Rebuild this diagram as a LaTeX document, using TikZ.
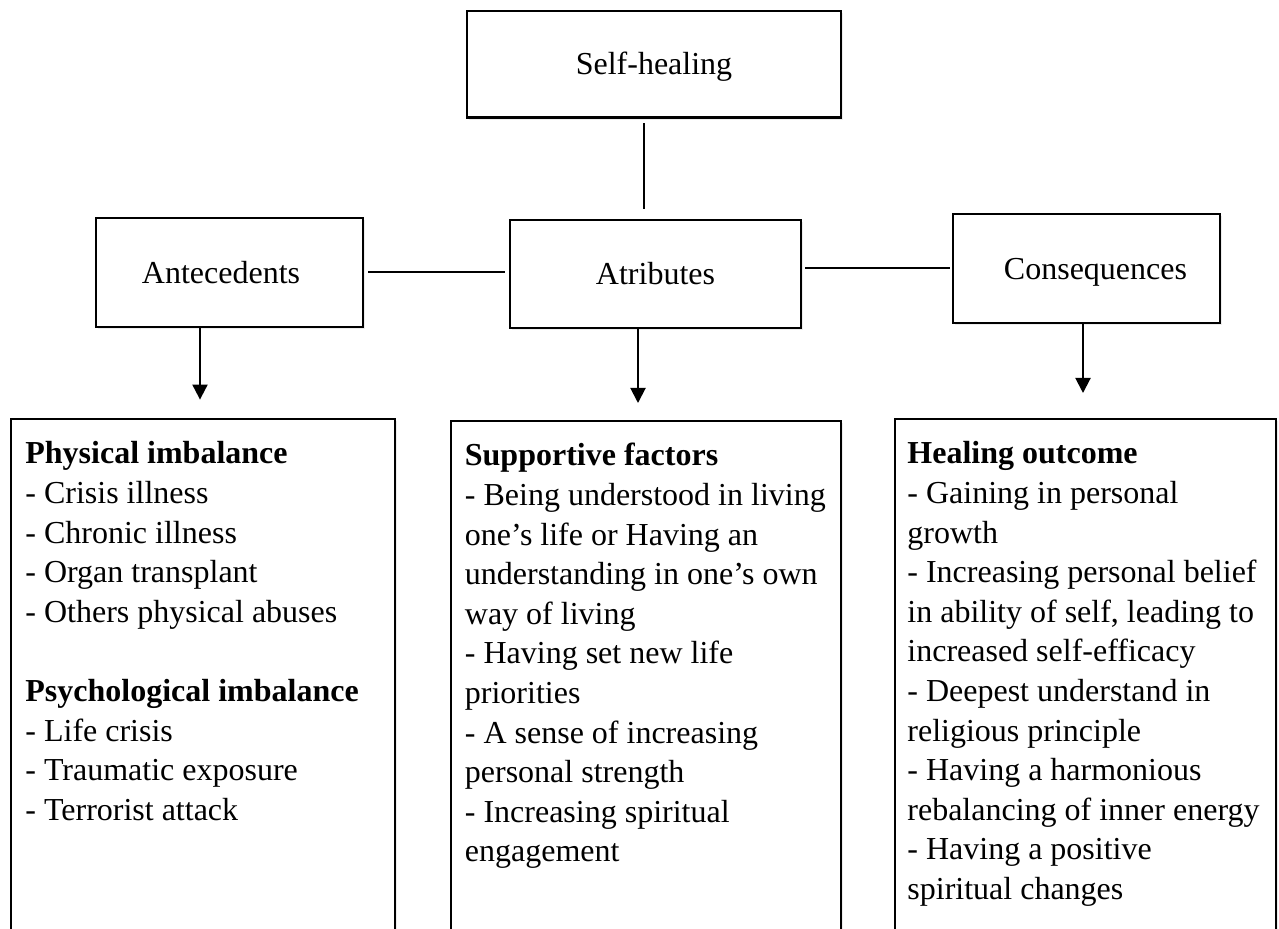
\documentclass[tikz,border=0pt]{standalone}
\usepackage{fontspec}
\setmainfont{Liberation Serif}
\usetikzlibrary{arrows.meta,shadows}
\begin{document}
\begin{tikzpicture}[x=0.5pt,y=-0.5pt,
  txt/.style={font=\fontsize{16pt}{19.8pt}\selectfont},
  box/.style={txt, draw=black, line width=1.1pt, fill=white, inner sep=0pt,
    text height=10.6pt, text depth=0pt,
    drop shadow={shadow xshift=0.8pt, shadow yshift=-1.2pt, opacity=0.15}},
  listbox/.style={draw=black, line width=1pt, fill=white, inner sep=0pt,
    drop shadow={shadow xshift=0.8pt, shadow yshift=-1.2pt, opacity=0.15}},
  listtext/.style={txt, anchor=base west, inner sep=0pt},
  conn/.style={line width=1pt},
  arr/.style={line width=1pt, -{Triangle[width=7.5pt,length=7.5pt]}}]
\useasboundingbox (0,0) rectangle (1279,929);
\clip (0,0) rectangle (1279,929);
\fill[white] (0,0) rectangle (1279,929);

% top boxes
\node[box, minimum width=187pt, minimum height=53.25pt] (self) at (654,64.25) {Self-healing};
\node[box, minimum width=133.5pt, minimum height=54.5pt] (ant) at (229.5,272.5) {\hspace*{-8.5pt}Antecedents};
\node[box, minimum width=145.5pt, minimum height=54pt] (atr) at (655.5,274) {Atributes};
\node[box, minimum width=133.5pt, minimum height=54.5pt] (cons) at (1086.5,268.5) {\hspace*{9pt}Consequences};

% bottom boxes (run past the lower edge)
\node[listbox, minimum width=192pt, minimum height=280.7pt] (phys) at (203,699.3) {};
\node[listbox, minimum width=195pt, minimum height=279.5pt] (supp) at (646,700.5) {};
\node[listbox, minimum width=190.5pt, minimum height=280.7pt] (heal) at (1085.5,699.3) {};

\node[listtext] (physt) at (25,464) {\parbox[t]{185pt}{\raggedright
\textbf{Physical imbalance}\\
- Crisis illness\\
- Chronic illness\\
- Organ transplant\\
- Others physical abuses\\[19.8pt]
\textbf{Psychological imbalance}\\
- Life crisis\\
- Traumatic exposure\\
- Terrorist attack}};

\node[listtext] (suppt) at (464.5,466) {\parbox[t]{188pt}{\raggedright
\textbf{Supportive factors}\\
- Being understood in living\\
one’s life or Having an\\
understanding in one’s own\\
way of living\\
- Having set new life\\
priorities\\
- A sense of increasing\\
personal strength\\
- Increasing spiritual\\
engagement}};

\node[listtext] (healt) at (907,464) {\parbox[t]{184pt}{\raggedright
\textbf{Healing outcome}\\
- Gaining in personal\\
growth\\
- Increasing personal belief\\
in ability of self, leading to\\
increased self-efficacy\\
- Deepest understand in\\
religious principle\\
- Having a harmonious\\
rebalancing of inner energy\\
- Having a positive\\
spiritual changes}};

% connectors
\draw[conn, shorten <=2.25pt, shorten >=5pt] ([xshift=-5pt]self.south) -- ([xshift=-5pt]self.south |- atr.north);
\draw[conn, shorten <=2pt, shorten >=2pt] (ant.east) -- (ant.east -| atr.west);
\draw[conn, shorten <=1.5pt, shorten >=1pt] (atr.east |- cons.west) -- (cons.west);

% arrows
\draw[arr, shorten >=9pt] ([xshift=-14.75pt]ant.south) -- ([xshift=-14.75pt]ant.south |- phys.north);
\draw[arr, shorten >=8.5pt] ([xshift=-8.75pt]atr.south) -- ([xshift=-8.75pt]atr.south |- supp.north);
\draw[arr, shorten >=12.3pt] ([xshift=-1.75pt]cons.south) -- ([xshift=-1.75pt]cons.south |- heal.north);
\end{tikzpicture}
\end{document}
